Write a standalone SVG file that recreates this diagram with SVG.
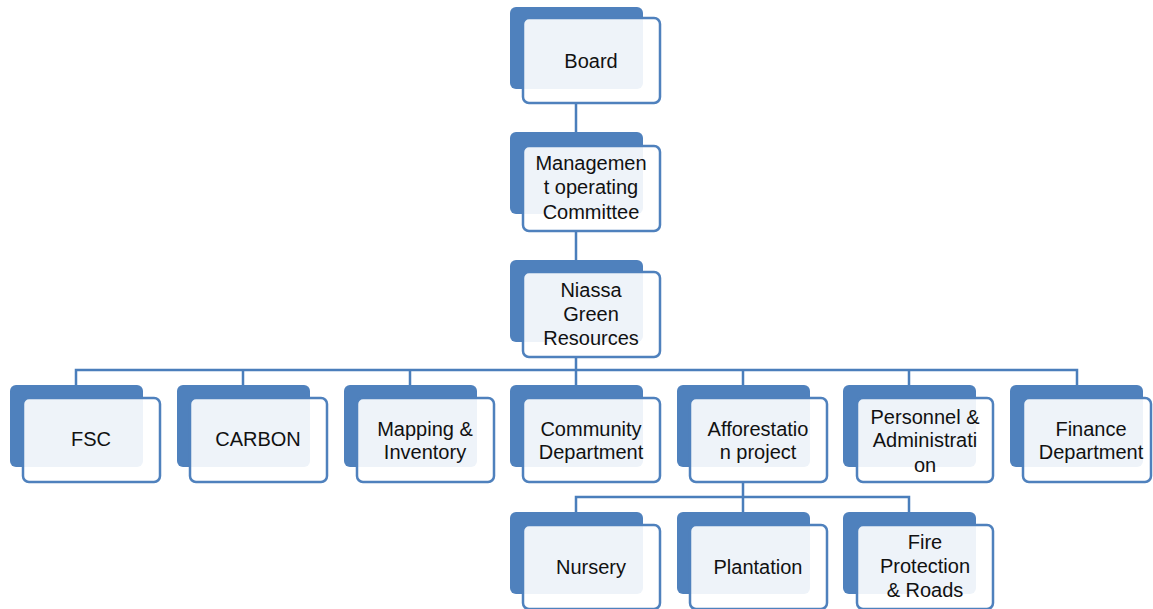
<svg xmlns="http://www.w3.org/2000/svg" width="1153" height="609" viewBox="0 0 1153 609">
<style>
.back{fill:#4F81BD;}
.front{fill:#ffffff;fill-opacity:0.9;stroke:#4F81BD;stroke-width:2.5;}
.lbl{font-family:"Liberation Sans",Arial,sans-serif;font-size:20px;fill:#111111;text-anchor:middle;}
.conn{fill:none;stroke:#4A7EBB;stroke-width:2.5;}
</style>
<rect width="1153" height="609" fill="#ffffff"/>
<g id="connectors">
<path class="conn" d="M576,104 V132 M576,232 V260 M576,357 V370 M76,385 V370 H1077 V385 M243,370 V385 M410,370 V385 M576,370 V385 M743,370 V385 M909,370 V385 M743,481 V512 M576,512 V497 H909 V512"/>
</g>
<g id="board"><rect class="back" x="510" y="7" width="133" height="82" rx="6"/><rect class="front" x="523" y="18" width="137" height="85" rx="6"/><text class="lbl" x="591" y="68">Board</text></g>
<g id="management"><rect class="back" x="510" y="132" width="133" height="82" rx="6"/><rect class="front" x="523" y="146" width="137" height="85" rx="6"/><text class="lbl" x="591" y="170">Managemen</text><text class="lbl" x="591" y="194">t operating</text><text class="lbl" x="591" y="219">Committee</text></g>
<g id="niassa"><rect class="back" x="510" y="260" width="133" height="82" rx="6"/><rect class="front" x="523" y="272" width="137" height="85" rx="6"/><text class="lbl" x="591" y="297">Niassa</text><text class="lbl" x="591" y="321">Green</text><text class="lbl" x="591" y="345">Resources</text></g>
<g id="fsc"><rect class="back" x="10" y="385" width="133" height="82" rx="6"/><rect class="front" x="23" y="398" width="137" height="84" rx="6"/><text class="lbl" x="91" y="446">FSC</text></g>
<g id="carbon"><rect class="back" x="177" y="385" width="133" height="82" rx="6"/><rect class="front" x="190" y="398" width="137" height="84" rx="6"/><text class="lbl" x="258" y="446">CARBON</text></g>
<g id="mapping"><rect class="back" x="344" y="385" width="133" height="82" rx="6"/><rect class="front" x="357" y="398" width="137" height="84" rx="6"/><text class="lbl" x="425" y="436">Mapping &amp;</text><text class="lbl" x="425" y="459">Inventory</text></g>
<g id="community"><rect class="back" x="510" y="385" width="133" height="82" rx="6"/><rect class="front" x="523" y="398" width="137" height="84" rx="6"/><text class="lbl" x="591" y="436">Community</text><text class="lbl" x="591" y="459">Department</text></g>
<g id="afforestation"><rect class="back" x="677" y="385" width="133" height="82" rx="6"/><rect class="front" x="690" y="398" width="137" height="84" rx="6"/><text class="lbl" x="758" y="436">Afforestatio</text><text class="lbl" x="758" y="459">n project</text></g>
<g id="personnel"><rect class="back" x="843" y="385" width="133" height="82" rx="6"/><rect class="front" x="857" y="398" width="136" height="84" rx="6"/><text class="lbl" x="925" y="424">Personnel &amp;</text><text class="lbl" x="925" y="447">Administrati</text><text class="lbl" x="925" y="472">on</text></g>
<g id="finance"><rect class="back" x="1010" y="385" width="133" height="82" rx="6"/><rect class="front" x="1023" y="398" width="128" height="84" rx="6"/><text class="lbl" x="1091" y="436">Finance</text><text class="lbl" x="1091" y="459">Department</text></g>
<g id="nursery"><rect class="back" x="510" y="512" width="133" height="82" rx="6"/><rect class="front" x="523" y="525" width="137" height="84" rx="6"/><text class="lbl" x="591" y="574">Nursery</text></g>
<g id="plantation"><rect class="back" x="677" y="512" width="133" height="82" rx="6"/><rect class="front" x="690" y="525" width="137" height="84" rx="6"/><text class="lbl" x="758" y="574">Plantation</text></g>
<g id="fire"><rect class="back" x="843" y="512" width="133" height="82" rx="6"/><rect class="front" x="857" y="525" width="136" height="84" rx="6"/><text class="lbl" x="925" y="549">Fire</text><text class="lbl" x="925" y="573">Protection</text><text class="lbl" x="925" y="597">&amp; Roads</text></g>
</svg>
